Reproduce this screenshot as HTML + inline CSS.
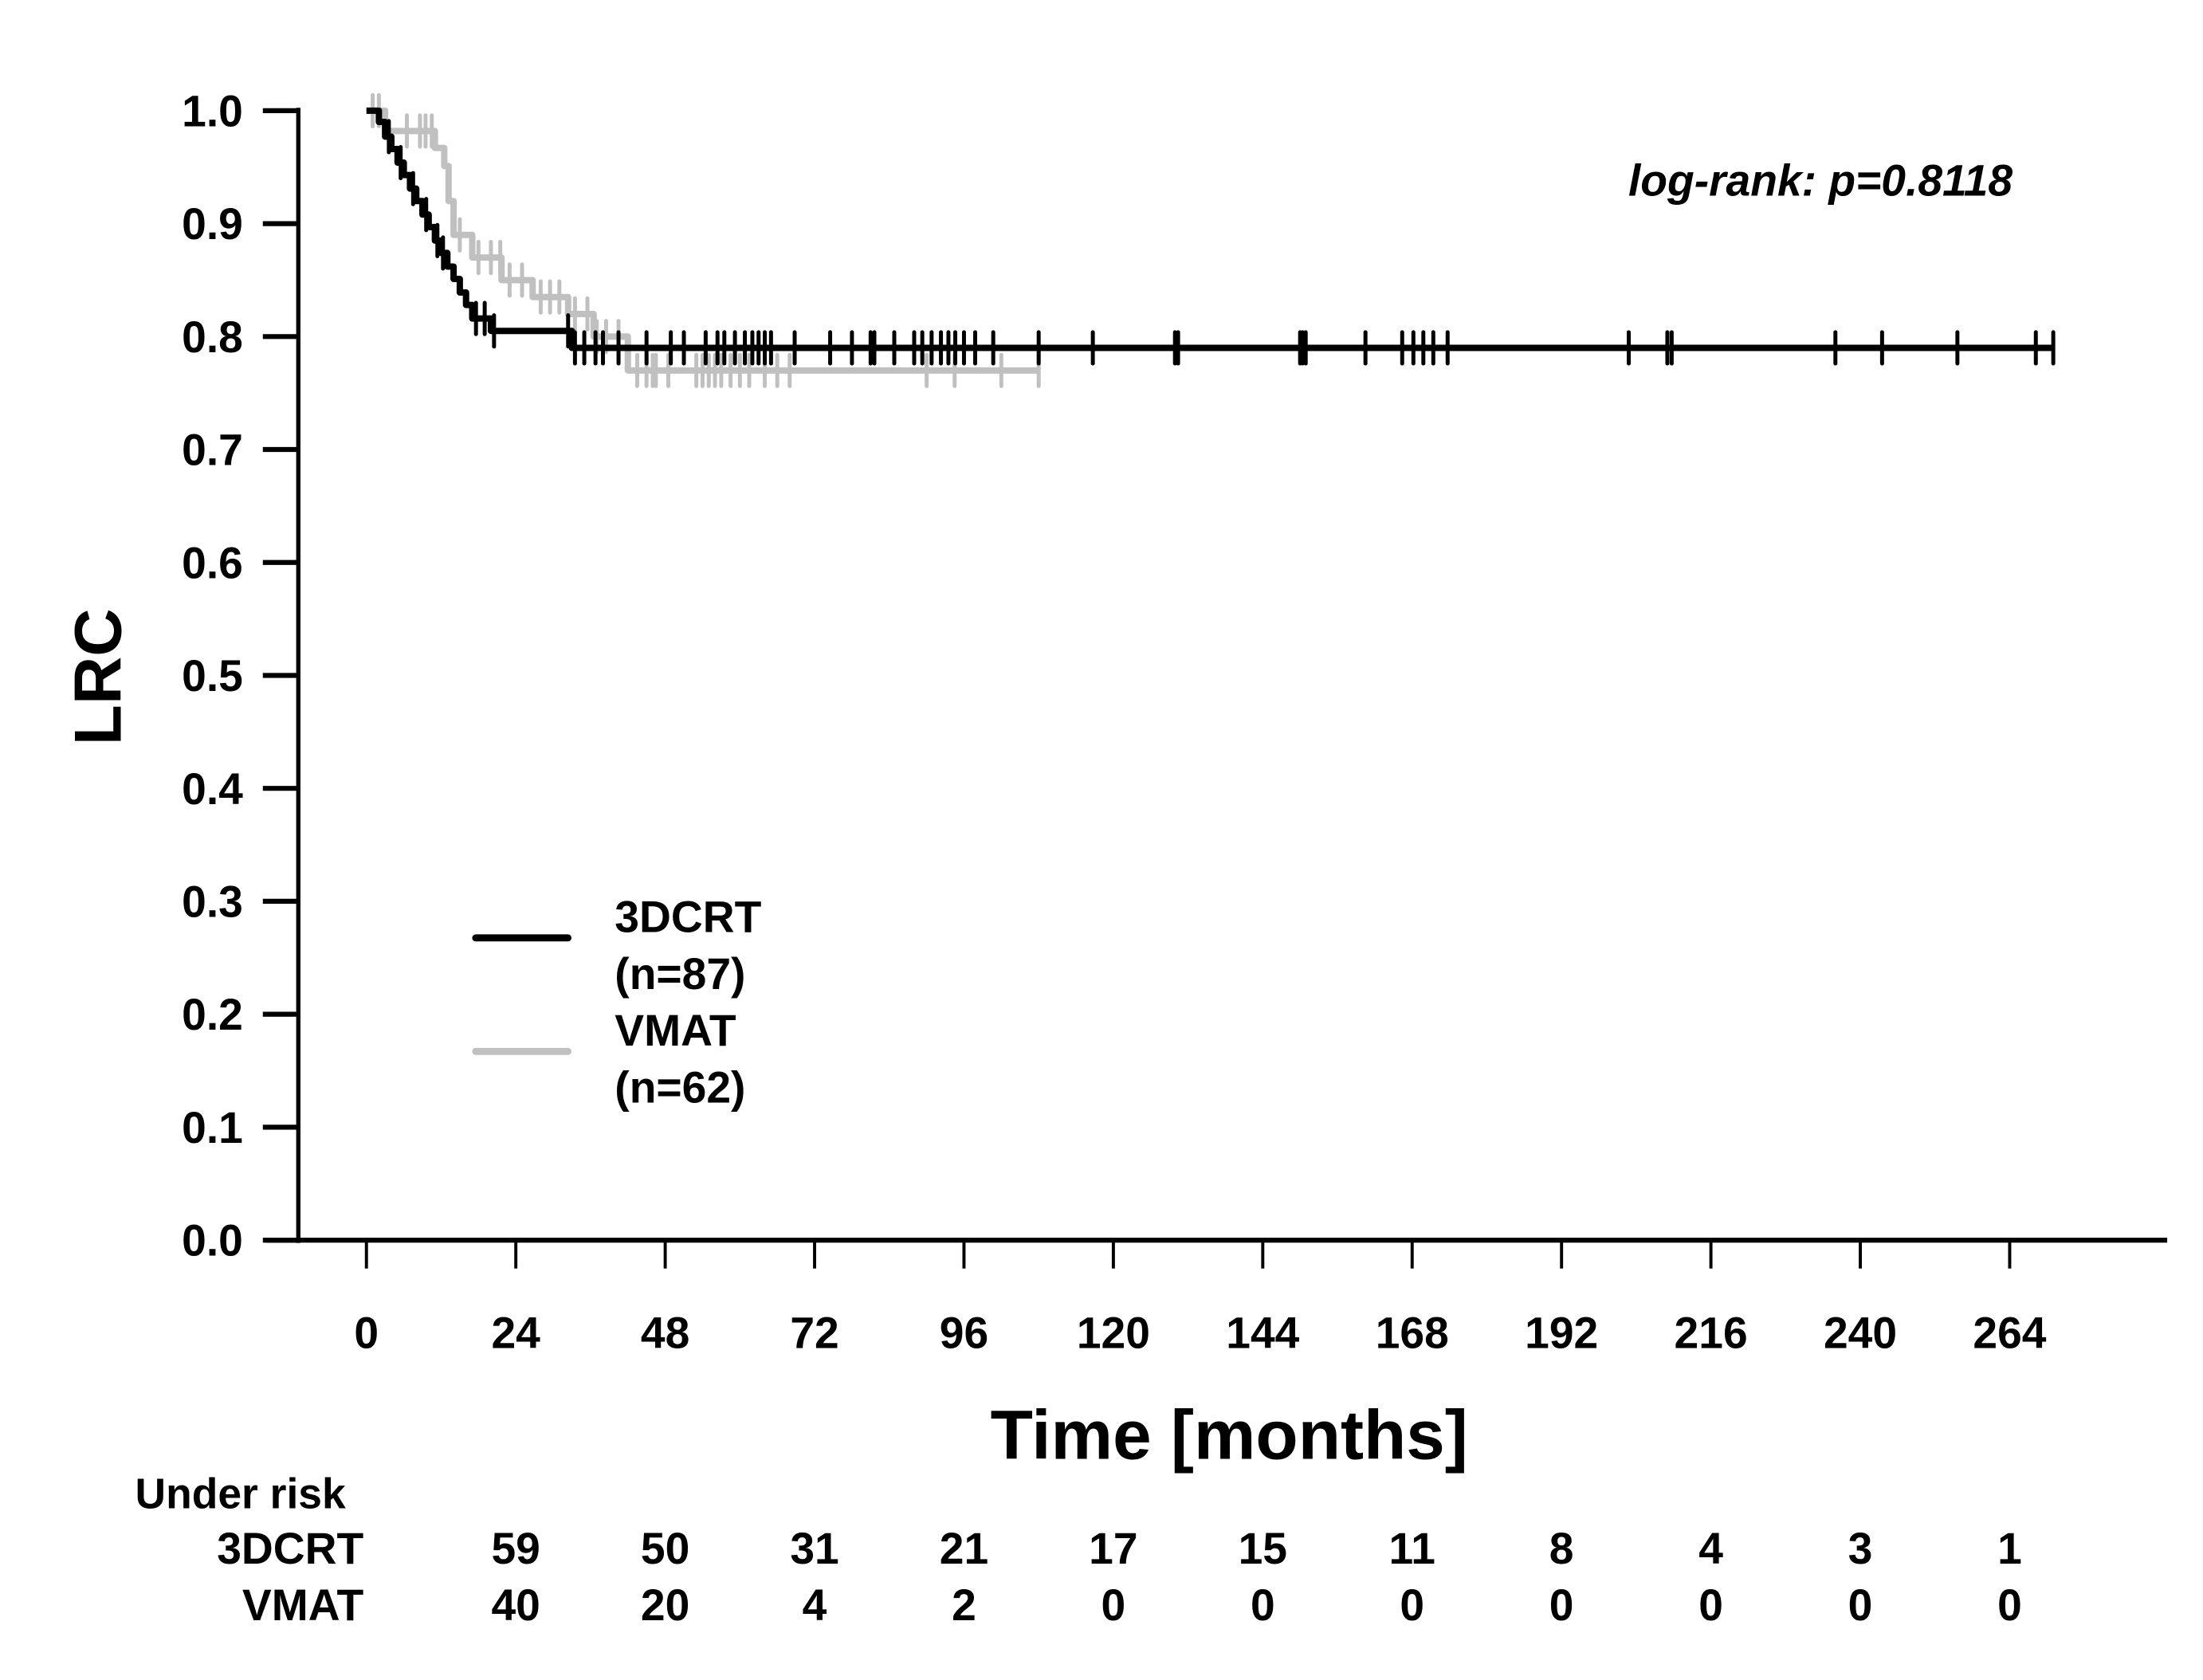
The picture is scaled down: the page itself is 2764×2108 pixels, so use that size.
<!DOCTYPE html>
<html><head><meta charset="utf-8"><style>
html,body{margin:0;padding:0;background:#fff}
svg{display:block}
text{font-family:"Liberation Sans",Arial,sans-serif;font-weight:bold;fill:#000}
</style></head><body>
<svg id="chart" width="2764" height="2108" viewBox="0 0 1552 1184" xmlns="http://www.w3.org/2000/svg">
<g id="axes"></g>
<g id="curves"></g>
<text x="1418" y="138" text-anchor="end" font-size="31" font-style="italic">log-rank: p=0.8118</text>
<text transform="translate(85,477) rotate(-90)" text-anchor="middle" font-size="47">LRC</text>
<text x="866" y="1028" text-anchor="middle" font-size="49">Time [months]</text>
<g>
<line x1="335" y1="661" x2="400" y2="661" stroke="#000" stroke-width="5" stroke-linecap="round"/>
<text x="433" y="657" font-size="31">3DCRT</text>
<text x="433" y="697" font-size="31">(n=87)</text>
<line x1="335" y1="741" x2="400" y2="741" stroke="#c0c0c0" stroke-width="5" stroke-linecap="round"/>
<text x="433" y="737" font-size="31">VMAT</text>
<text x="433" y="777" font-size="31">(n=62)</text>
</g>
<text x="95" y="1063" font-size="30">Under risk</text>
<text x="256" y="1102" text-anchor="end" font-size="31">3DCRT</text>
<text x="256" y="1142" text-anchor="end" font-size="31">VMAT</text>
<g id="risk"></g>
</svg>
<script>
const xTicks=[0,24,48,72,96,120,144,168,192,216,240,264];
const yTicks=[0,0.1,0.2,0.3,0.4,0.5,0.6,0.7,0.8,0.9,1.0];
const riskTimes=[24,48,72,96,120,144,168,192,216,240,264];
const risk3dcrt=[59,50,31,21,17,15,11,8,4,3,1];
const riskVmat=[40,20,4,2,0,0,0,0,0,0,0];
const times3dcrt=[0,2,3,4,5,6,7,8,9,10,11,12,13,14,15,16,17,20,33];
const surv3dcrt=[1,0.99,0.977,0.966,0.954,0.943,0.931,0.92,0.908,0.897,0.885,0.874,0.862,0.851,0.839,0.828,0.816,0.805,0.79];
const end3dcrt=271;
const cens3dcrt=[3.6,5.5,7.5,9.6,11.4,12.3,17.6,19,20.5,32.4,33.5,35,36.8,38,40.5,45,48.9,51,54.5,56.4,57.5,59.2,60.8,62,63,64,65,68.8,74.5,78,81,81.6,84.8,88,89.3,90.8,92.3,93.5,94.6,96,97.8,100.7,108,116.7,129.9,130.4,150,150.4,150.9,160.5,166.4,168.2,169.8,171.4,173.7,202.8,209,209.7,236,243.5,255.6,268.2];
const timesVmat=[0,3,11,12.5,13.2,14,17,21.7,26.7,32.4,36.5,42];
const survVmat=[1,0.982,0.967,0.951,0.92,0.89,0.87,0.85,0.835,0.82,0.8,0.77];
const endVmat=108;
const censVmat=[1,2,6.5,8.6,9.5,10.5,15,18,20,21.5,23,25,28,29.5,31,33.5,35.5,37,38.5,40.5,43.5,45,46,46.5,48.5,53,54,55,56,57,58.5,60,61.5,64,66,68,90,94.5,102];

const NS='http://www.w3.org/2000/svg';
const X=t=>258+t*(1416-258)/264;
const Y=s=>874-s*(874-78);
function mk(tag,attrs,parent){const e=document.createElementNS(NS,tag);for(const k in attrs)e.setAttribute(k,attrs[k]);parent.appendChild(e);return e;}
const axes=document.getElementById('axes');
let l=mk('line',{x1:210,y1:76,x2:210,y2:876,stroke:'#000','stroke-width':3},axes);


l=mk('line',{x1:187,y1:874,x2:1527,y2:874,stroke:'#000','stroke-width':3.5},axes);


yTicks.forEach(v=>{
  const t=mk('line',{x1:185,y1:Y(v),x2:210,y2:Y(v),stroke:'#000','stroke-width':3.5},axes);
  
  
  const tx=mk('text',{x:171,y:Y(v)+11,'text-anchor':'end','font-size':31},axes);
  tx.textContent=v.toFixed(1);
  
  
});
xTicks.forEach(v=>{
  const t=mk('line',{x1:X(v),y1:874,x2:X(v),y2:894,stroke:'#000','stroke-width':2.2},axes);
  
  
  const tx=mk('text',{x:X(v),y:950,'text-anchor':'middle','font-size':31},axes);
  tx.textContent=v;
  
  
});
const curves=document.getElementById('curves');
function survAt(ts,ss,t){let s=1;for(let i=0;i<ts.length;i++){if(ts[i]<=t)s=ss[i];}return s;}
function draw(ts,ss,end,cens,color,name){
  let d='M'+X(ts[0])+','+Y(ss[0]);
  for(let i=1;i<ts.length;i++){d+=' H'+X(ts[i])+' V'+Y(ss[i]);}
  d+=' H'+X(end);
  const p=mk('path',{d:d,fill:'none',stroke:color,'stroke-width':4.5,'stroke-linejoin':'round'},curves);
  
  
  cens.concat([end]).forEach(c=>{
    const s=survAt(ts,ss,c);
    const m=mk('line',{x1:X(c),y1:Y(s)-11,x2:X(c),y2:Y(s)+11,stroke:color,'stroke-width':2.8,'stroke-linecap':'round'},curves);
    
    
  });
}
draw(timesVmat,survVmat,endVmat,censVmat,'#c0c0c0','vmat');
draw(times3dcrt,surv3dcrt,end3dcrt,cens3dcrt,'#000','3dcrt');
const risk=document.getElementById('risk');
riskTimes.forEach((t,i)=>{
  let a=mk('text',{x:X(t),y:1102,'text-anchor':'middle','font-size':31},risk);
  a.textContent=risk3dcrt[i];
  
  
  let b=mk('text',{x:X(t),y:1142,'text-anchor':'middle','font-size':31},risk);
  b.textContent=riskVmat[i];
  
  
});
</script>
</body></html>
